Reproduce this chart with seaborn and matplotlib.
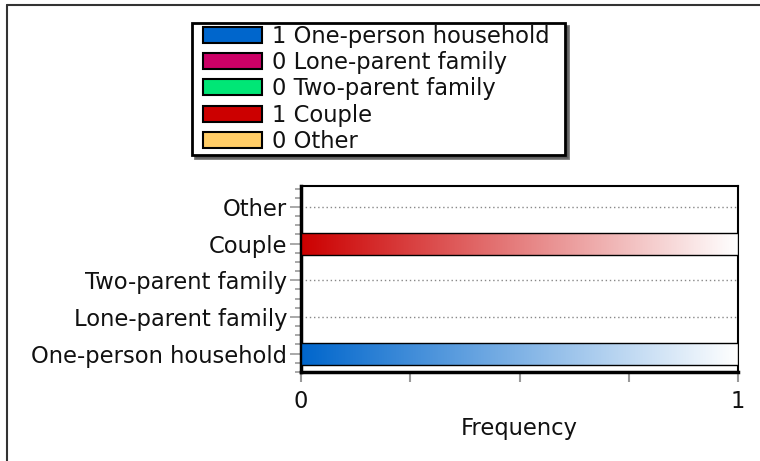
import numpy as np
import pandas as pd
import matplotlib
matplotlib.use("Agg")
import matplotlib.pyplot as plt
import seaborn as sns
from matplotlib.colors import LinearSegmentedColormap
from matplotlib.patches import Patch, Rectangle
from matplotlib.lines import Line2D
from matplotlib.legend_handler import HandlerPatch
from matplotlib.ticker import MultipleLocator, FixedLocator

# Household types, top to bottom on the chart
categories = ["Other", "Couple", "Two-parent family", "Lone-parent family", "One-person household"]
frequency = [0, 1, 0, 0, 1]
colors = ["#FFCC66", "#CC0000", "#00E676", "#CC0066", "#0066CC"]

# Legend lists the types bottom-up
legend_order = categories[::-1]

x_ticks = [0, 0.25, 0.5, 0.75, 1]
x_tick_labels = ["0", "", "", "", "1"]

sns.set_theme(style="white")
plt.rcParams["font.family"] = ["DejaVu Sans"]
FS = 16.3

df = pd.DataFrame({"category": categories, "frequency": frequency})

fig = plt.figure(figsize=(7.6, 4.61), dpi=100)
ax = fig.add_axes([301 / 760, 1 - 372 / 461, (738 - 301) / 760, (372 - 186) / 461])

sns.barplot(data=df, x="frequency", y="category", hue="category",
            palette=colors, order=categories, hue_order=categories,
            width=0.6, edgecolor="black", linewidth=1.0,
            legend=False, ax=ax, zorder=3)

# Replace flat fills with a colour-to-white gradient clipped to each bar
for patch, col in zip(ax.patches, colors):
    w = patch.get_width()
    if w <= 0:
        continue
    x0, y0 = patch.get_x(), patch.get_y()
    h = patch.get_height()
    cmap = LinearSegmentedColormap.from_list("g", [col, "#FFFFFF"])
    grad = np.linspace(0, 1, 256).reshape(1, -1)
    im = ax.imshow(grad, cmap=cmap, aspect="auto",
                   extent=(x0, x0 + w, y0 + h, y0), zorder=3.5,
                   interpolation="bilinear")
    im.set_clip_path(patch)
    patch.set_facecolor("none")
    patch.set_zorder(4)

ax.set_ylim(4.5, -0.57)
ax.set_xlim(0, 1)

# Dotted guide lines at each category
for i in range(len(categories)):
    ax.axhline(i, color="#888888", linestyle=(0, (1, 2)), linewidth=1.0, zorder=1)

ax.xaxis.set_major_locator(FixedLocator(x_ticks))
ax.set_xticklabels(x_tick_labels)
ax.yaxis.set_minor_locator(MultipleLocator(0.25))

ax.tick_params(axis="x", which="major", direction="out", length=7, width=1.5,
               color="#999999", labelsize=FS, labelcolor="#111111", pad=6, bottom=True)
ax.tick_params(axis="y", which="major", direction="out", length=8, width=1.2,
               color="#999999", labelsize=FS, labelcolor="#111111", pad=2, left=True)
ax.tick_params(axis="y", which="minor", direction="out", length=4.5, width=1.2,
               color="#999999", left=True)

ax.set_xlabel("Frequency", fontsize=FS, color="#111111", labelpad=3)
ax.set_ylabel("")

for side in ["top", "right"]:
    ax.spines[side].set_visible(True)
    ax.spines[side].set_color("black")
    ax.spines[side].set_linewidth(1.5)
for side in ["left", "bottom"]:
    ax.spines[side].set_color("black")
    ax.spines[side].set_linewidth(2.5)


# Legend swatches inset from the left edge of the legend box
SWATCH_INSET = 7.0  # points


def inset_swatch(legend, orig_handle, xdescent, ydescent, width, height, fontsize):
    return Rectangle((-xdescent + SWATCH_INSET, -ydescent),
                     width - SWATCH_INSET, height)


lookup = dict(zip(categories, frequency))
cmap_lookup = dict(zip(categories, colors))
handles = [Patch(facecolor=cmap_lookup[c], edgecolor="black", linewidth=1.5) for c in legend_order]
labels = [f"{lookup[c]} {c}" for c in legend_order]
leg = fig.legend(handles, labels, loc="upper left",
                 bbox_to_anchor=(192 / 760, 1 - 154 / 461, 373 / 760, 131 / 461),
                 mode="expand", borderaxespad=0,
                 frameon=True, fancybox=False, shadow={"color": "#555555", "alpha": 0.8},
                 fontsize=FS, handlelength=3.03, handleheight=0.71,
                 labelspacing=0.15, handletextpad=0.45, borderpad=0.07,
                 handler_map={Patch: HandlerPatch(patch_func=inset_swatch)})
leg.get_frame().set_edgecolor("black")
leg.get_frame().set_linewidth(2.0)
for t in leg.get_texts():
    t.set_color("#111111")

# Outer frame: top and left edges
fig.add_artist(Line2D([7 / 760, 7 / 760], [0, 1 - 5 / 461], transform=fig.transFigure,
                      color="#333333", linewidth=1.5))
fig.add_artist(Line2D([7 / 760, 1], [1 - 5 / 461, 1 - 5 / 461], transform=fig.transFigure,
                      color="#333333", linewidth=1.5))

fig.savefig("out.png", dpi=100)
